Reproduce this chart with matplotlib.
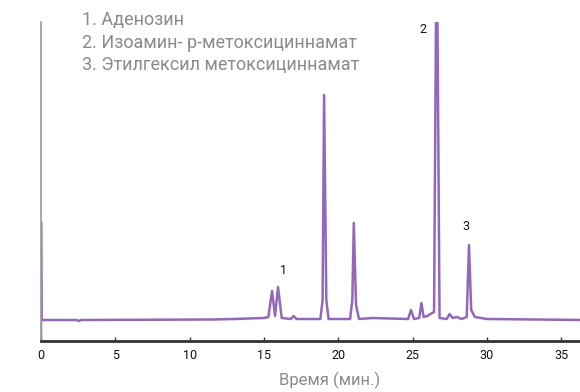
import numpy as np
import matplotlib.pyplot as plt

plt.rcParams['font.family'] = ['Roboto', 'DejaVu Sans']

# trace: time (min) and signal (arbitrary units above baseline)
t = [0.0, 0.0, 0.03, 2.4, 2.55, 2.7, 11.5, 13.0, 15.0, 15.3, 15.55, 15.75, 15.95,
     16.2, 16.8, 17.0, 17.2, 18.8, 18.95, 19.05, 19.2, 19.35, 20.8, 20.95, 21.05,
     21.2, 21.4, 22.3, 24.7, 24.9, 25.1, 25.45, 25.6, 25.75, 26.0, 26.2, 26.45,
     26.58, 26.68, 26.82, 27.3, 27.5, 27.7, 28.0, 28.3, 28.65, 28.8, 28.95, 29.2,
     30.0, 36.5]
signal = [-21, 98, 0, 0, -1, 0, 0.5, 1, 2, 3, 29, 4, 33,
          2, 1, 4, 1, 1, 20, 225, 20, 1, 1, 20, 97,
          15, 1, 2, 1, 10, 1, 2, 17, 3, 4, 6, 8,
          300, 300, 2, 1, 6, 2, 3, 1, 3, 75, 10, 3,
          1, 0]

peak_labels = ['1', '2', '3']
peak_pos = [(16.3, 43), (25.7, 284), (28.6, 87)]

legend_lines = ['1. Аденозин',
                '2. Изоамин- р-метоксициннамат',
                '3. Этилгексил метоксициннамат']

fig = plt.figure(figsize=(5.8, 3.92), dpi=100)
ax = fig.add_axes([41/580, 51/392, 1 - 41/580, (341-22)/392])

ax.plot(t, signal, color='#9368b9', lw=1.8, solid_joinstyle='round')

ax.set_xlim(0, (580-41)/14.86)
ax.set_ylim(-21, 298)

for lab, (x, y) in zip(peak_labels, peak_pos):
    ax.text(x, y, lab, fontsize=9, color='#111111', ha='center', va='bottom')

for i, line in enumerate(legend_lines):
    fig.text(82/580, 1 - (11 + i*22.5)/392, line, fontsize=13, color='#8a8a8a',
             ha='left', va='top')

ax.set_xticks([0, 5, 10, 15, 20, 25, 30, 35])
ax.tick_params(axis='x', direction='in', length=3, width=1, labelsize=9,
               colors='#333333', labelcolor='#111111', pad=6)
ax.set_yticks([])
ax.spines['top'].set_visible(False)
ax.spines['right'].set_visible(False)
ax.spines['left'].set_color('#9a9a9a')
ax.spines['left'].set_linewidth(1.2)
ax.spines['bottom'].set_color('#333333')
ax.spines['bottom'].set_linewidth(2)

ax.set_xlabel('Время (мин.)', fontsize=12, color='#8a8a8a')
ax.xaxis.set_label_coords((330-41)/539, -0.095)

fig.savefig('out.png', dpi=100)
